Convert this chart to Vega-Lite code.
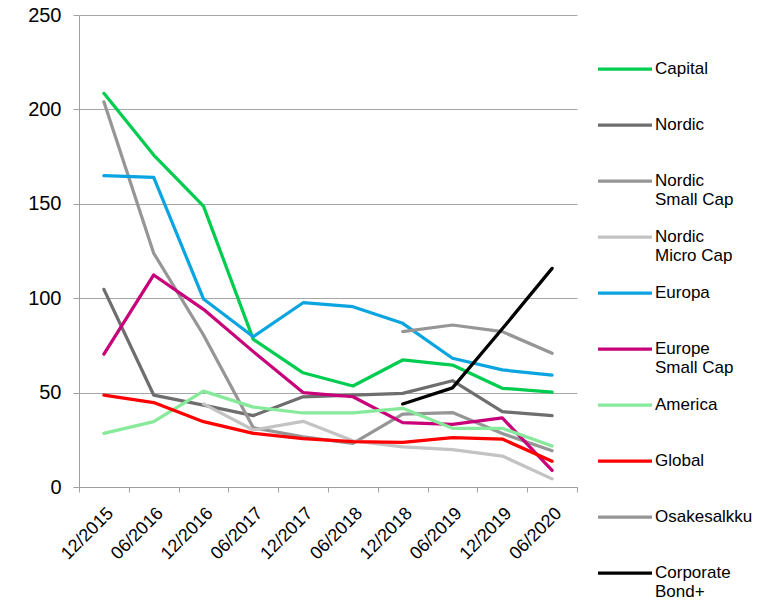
{
  "$schema": "https://vega.github.io/schema/vega-lite/v6.json",
  "width": 498,
  "height": 472,
  "autosize": {"type": "none"},
  "padding": {"left": 79, "top": 15, "right": 198, "bottom": 114},
  "background": "white",
  "config": {"font": "Liberation Sans", "view": {"stroke": null}},
  "data": {
    "values": [
      {"fund": "Capital", "period": "12/2015", "value": 208.5},
      {"fund": "Capital", "period": "06/2016", "value": 175.8},
      {"fund": "Capital", "period": "12/2016", "value": 148.8},
      {"fund": "Capital", "period": "06/2017", "value": 78.2},
      {"fund": "Capital", "period": "12/2017", "value": 60.5},
      {"fund": "Capital", "period": "06/2018", "value": 53.5},
      {"fund": "Capital", "period": "12/2018", "value": 67.3},
      {"fund": "Capital", "period": "06/2019", "value": 64.6},
      {"fund": "Capital", "period": "12/2019", "value": 52.3},
      {"fund": "Capital", "period": "06/2020", "value": 50.2},

      {"fund": "Nordic", "period": "12/2015", "value": 104.7},
      {"fund": "Nordic", "period": "06/2016", "value": 48.7},
      {"fund": "Nordic", "period": "12/2016", "value": 43.4},
      {"fund": "Nordic", "period": "06/2017", "value": 37.8},
      {"fund": "Nordic", "period": "12/2017", "value": 47.8},
      {"fund": "Nordic", "period": "06/2018", "value": 48.7},
      {"fund": "Nordic", "period": "12/2018", "value": 49.6},
      {"fund": "Nordic", "period": "06/2019", "value": 56.3},
      {"fund": "Nordic", "period": "12/2019", "value": 39.9},
      {"fund": "Nordic", "period": "06/2020", "value": 37.8},

      {"fund": "Nordic Small Cap", "period": "12/2015", "value": 204},
      {"fund": "Nordic Small Cap", "period": "06/2016", "value": 123.8},
      {"fund": "Nordic Small Cap", "period": "12/2016", "value": 80.5},
      {"fund": "Nordic Small Cap", "period": "06/2017", "value": 31.4},
      {"fund": "Nordic Small Cap", "period": "12/2017", "value": 26.5},
      {"fund": "Nordic Small Cap", "period": "06/2018", "value": 23.1},
      {"fund": "Nordic Small Cap", "period": "12/2018", "value": 38.6},
      {"fund": "Nordic Small Cap", "period": "06/2019", "value": 39.4},
      {"fund": "Nordic Small Cap", "period": "12/2019", "value": 28.3},
      {"fund": "Nordic Small Cap", "period": "06/2020", "value": 19.2},

      {"fund": "Nordic Micro Cap", "period": "12/2016", "value": 44},
      {"fund": "Nordic Micro Cap", "period": "06/2017", "value": 30.2},
      {"fund": "Nordic Micro Cap", "period": "12/2017", "value": 34.8},
      {"fund": "Nordic Micro Cap", "period": "06/2018", "value": 24.5},
      {"fund": "Nordic Micro Cap", "period": "12/2018", "value": 21.3},
      {"fund": "Nordic Micro Cap", "period": "06/2019", "value": 19.8},
      {"fund": "Nordic Micro Cap", "period": "12/2019", "value": 16.4},
      {"fund": "Nordic Micro Cap", "period": "06/2020", "value": 4.3},

      {"fund": "Europa", "period": "12/2015", "value": 164.9},
      {"fund": "Europa", "period": "06/2016", "value": 164},
      {"fund": "Europa", "period": "12/2016", "value": 99.6},
      {"fund": "Europa", "period": "06/2017", "value": 79.6},
      {"fund": "Europa", "period": "12/2017", "value": 97.6},
      {"fund": "Europa", "period": "06/2018", "value": 95.5},
      {"fund": "Europa", "period": "12/2018", "value": 86.7},
      {"fund": "Europa", "period": "06/2019", "value": 68.2},
      {"fund": "Europa", "period": "12/2019", "value": 62},
      {"fund": "Europa", "period": "06/2020", "value": 59.3},

      {"fund": "Europe Small Cap", "period": "12/2015", "value": 70.4},
      {"fund": "Europe Small Cap", "period": "06/2016", "value": 112.3},
      {"fund": "Europe Small Cap", "period": "12/2016", "value": 94.1},
      {"fund": "Europe Small Cap", "period": "06/2017", "value": 71.7},
      {"fund": "Europe Small Cap", "period": "12/2017", "value": 50},
      {"fund": "Europe Small Cap", "period": "06/2018", "value": 47.8},
      {"fund": "Europe Small Cap", "period": "12/2018", "value": 34.1},
      {"fund": "Europe Small Cap", "period": "06/2019", "value": 33.2},
      {"fund": "Europe Small Cap", "period": "12/2019", "value": 36.6},
      {"fund": "Europe Small Cap", "period": "06/2020", "value": 8.8},

      {"fund": "America", "period": "12/2015", "value": 28.4},
      {"fund": "America", "period": "06/2016", "value": 34.6},
      {"fund": "America", "period": "12/2016", "value": 50.8},
      {"fund": "America", "period": "06/2017", "value": 42.3},
      {"fund": "America", "period": "12/2017", "value": 39.2},
      {"fund": "America", "period": "06/2018", "value": 39.2},
      {"fund": "America", "period": "12/2018", "value": 41.7},
      {"fund": "America", "period": "06/2019", "value": 31.1},
      {"fund": "America", "period": "12/2019", "value": 31.1},
      {"fund": "America", "period": "06/2020", "value": 21.7},

      {"fund": "Global", "period": "12/2015", "value": 48.7},
      {"fund": "Global", "period": "06/2016", "value": 44.7},
      {"fund": "Global", "period": "12/2016", "value": 34.6},
      {"fund": "Global", "period": "06/2017", "value": 28.4},
      {"fund": "Global", "period": "12/2017", "value": 25.6},
      {"fund": "Global", "period": "06/2018", "value": 24},
      {"fund": "Global", "period": "12/2018", "value": 23.6},
      {"fund": "Global", "period": "06/2019", "value": 26.1},
      {"fund": "Global", "period": "12/2019", "value": 25.4},
      {"fund": "Global", "period": "06/2020", "value": 13.6},

      {"fund": "Osakesalkku", "period": "12/2018", "value": 82.3},
      {"fund": "Osakesalkku", "period": "06/2019", "value": 85.8},
      {"fund": "Osakesalkku", "period": "12/2019", "value": 82.3},
      {"fund": "Osakesalkku", "period": "06/2020", "value": 70.8},

      {"fund": "Corporate Bond+", "period": "12/2018", "value": 44},
      {"fund": "Corporate Bond+", "period": "06/2019", "value": 52.5},
      {"fund": "Corporate Bond+", "period": "12/2019", "value": 83.8},
      {"fund": "Corporate Bond+", "period": "06/2020", "value": 115.8}
    ]
  },
  "mark": {"type": "line", "strokeWidth": 3.25, "strokeJoin": "round", "strokeCap": "round"},
  "encoding": {
    "x": {
      "field": "period",
      "type": "ordinal",
      "sort": ["12/2015", "06/2016", "12/2016", "06/2017", "12/2017", "06/2018", "12/2018", "06/2019", "12/2019", "06/2020"],
      "bandPosition": 0.5,
      "scale": {"type": "band", "paddingInner": 0, "paddingOuter": 0},
      "axis": {
        "title": null,
        "grid": false,
        "tickBand": "extent",
        "tickSize": 5,
        "tickColor": "#a0a0a0",
        "domainColor": "#a0a0a0",
        "labelAngle": -45,
        "labelAlign": "right",
        "labelBaseline": "top",
        "labelFontSize": 18,
        "labelColor": "#000000",
        "labelPadding": 12
      }
    },
    "y": {
      "field": "value",
      "type": "quantitative",
      "scale": {"domain": [0, 250], "nice": false},
      "axis": {
        "title": null,
        "values": [0, 50, 100, 150, 200, 250],
        "grid": true,
        "gridColor": "#a6a6a6",
        "tickSize": 6,
        "tickColor": "#a0a0a0",
        "domainColor": "#a0a0a0",
        "labelFontSize": 20,
        "labelColor": "#000000",
        "labelPadding": 12
      }
    },
    "color": {
      "field": "fund",
      "type": "nominal",
      "sort": ["Capital", "Nordic", "Nordic Small Cap", "Nordic Micro Cap", "Europa", "Europe Small Cap", "America", "Global", "Osakesalkku", "Corporate Bond+"],
      "scale": {
        "domain": ["Capital", "Nordic", "Nordic Small Cap", "Nordic Micro Cap", "Europa", "Europe Small Cap", "America", "Global", "Osakesalkku", "Corporate Bond+"],
        "range": ["#00cc50", "#6e6e6e", "#969696", "#c3c3c3", "#0aa5e1", "#c8007a", "#86ea9a", "#ff0000", "#969696", "#000000"]
      },
      "legend": {
        "title": null,
        "orient": "none",
        "legendX": 517,
        "legendY": 25,
        "padding": 0,
        "symbolType": "stroke",
        "symbolSize": 2916,
        "symbolStrokeWidth": 3.25,
        "labelFontSize": 17,
        "labelColor": "#000000",
        "labelOffset": 1,
        "labelLimit": 200,
        "labelBaseline": "middle",
        "rowPadding": -0.4,
        "labelExpr": "datum.label == 'Nordic Small Cap' ? ['Nordic', 'Small Cap'] : datum.label == 'Nordic Micro Cap' ? ['Nordic', 'Micro Cap'] : datum.label == 'Europe Small Cap' ? ['Europe', 'Small Cap'] : datum.label == 'Corporate Bond+' ? ['Corporate', 'Bond+'] : [datum.label, '']"
      }
    }
  }
}
